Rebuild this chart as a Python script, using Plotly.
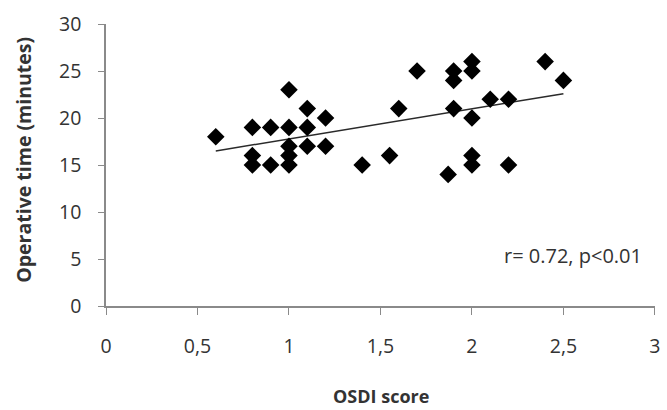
import numpy as np
import plotly.graph_objects as go

osdi = [0.6, 0.8, 0.8, 0.8, 0.9, 0.9, 1.0, 1.0, 1.0, 1.0, 1.0, 1.1, 1.1, 1.1,
        1.2, 1.2, 1.4, 1.55, 1.6, 1.7, 1.87, 1.9, 1.9, 1.9,
        2.0, 2.0, 2.0, 2.0, 2.0, 2.1, 2.2, 2.2, 2.4, 2.5]
op_time = [18, 19, 16, 15, 19, 15, 23, 19, 17, 16, 15, 21, 19, 17,
           20, 17, 15, 16, 21, 25, 14, 25, 24, 21,
           26, 25, 20, 16, 15, 22, 22, 15, 26, 24]

x_tickvals = [0, 0.5, 1, 1.5, 2, 2.5, 3]
x_ticktext = ["0", "0,5", "1", "1,5", "2", "2,5", "3"]
y_tickvals = [0, 5, 10, 15, 20, 25, 30]

slope, intercept = np.polyfit(osdi, op_time, 1)
trend_x = [min(osdi), max(osdi)]
trend_y = [slope * v + intercept for v in trend_x]

FONT = "Open Sans"
TXT = "#333333"
AX = "#8a8a8a"

fig = go.Figure()
fig.add_trace(go.Scatter(x=trend_x, y=trend_y, mode="lines",
                         line=dict(color="#2a2a2a", width=1.5),
                         hoverinfo="skip", showlegend=False))
fig.add_trace(go.Scatter(x=osdi, y=op_time, mode="markers",
                         marker=dict(symbol="diamond", size=13.5, color="black",
                                     line=dict(width=0)),
                         showlegend=False))

fig.update_layout(
    width=667, height=410,
    margin=dict(l=106, r=7, t=24, b=104),
    paper_bgcolor="white", plot_bgcolor="white",
    font=dict(family=FONT, size=18, color=TXT),
    xaxis=dict(range=[0, 3.0005], tickvals=x_tickvals, ticktext=x_ticktext,
               showgrid=False, zeroline=False, showline=True, linecolor=AX,
               linewidth=1.5, ticks="outside", ticklen=7, tickcolor=AX,
               tickfont=dict(family=FONT, size=19.5, color=TXT),
               ticklabelstandoff=15, ticklabeloverflow="allow"),
    yaxis=dict(range=[0, 30.0005], tickvals=y_tickvals,
               showgrid=False, zeroline=False, showline=True, linecolor=AX,
               linewidth=1.5, ticks="outside", ticklen=6, tickcolor=AX,
               tickfont=dict(family=FONT, size=19.5, color=TXT),
               ticklabelstandoff=13, ticklabeloverflow="allow"),
    annotations=[
        dict(text="<b>OSDI score</b>", xref="paper", yref="paper",
             x=0.5, y=(306 - 396) / 282, xanchor="center", yanchor="middle",
             showarrow=False, font=dict(family=FONT, size=18, color=TXT)),
        dict(text="<b>Operative time (minutes)</b>", xref="paper", yref="paper",
             x=(22 - 106) / 554, y=(306 - 160) / 282, xanchor="center",
             yanchor="middle", textangle=-90,
             showarrow=False, font=dict(family=FONT, size=19.5, color=TXT)),
        dict(text="r= 0.72, p<0.01", xref="x", yref="y",
             x=2.555, y=5.4, xanchor="center", yanchor="middle",
             showarrow=False, font=dict(family=FONT, size=20, color=TXT)),
    ],
)

fig.write_html(
    "out.html",
    config={"displayModeBar": False},
    post_script="document.body.style.margin='0';document.body.style.padding='0';"
                "document.documentElement.style.overflow='hidden';",
)
